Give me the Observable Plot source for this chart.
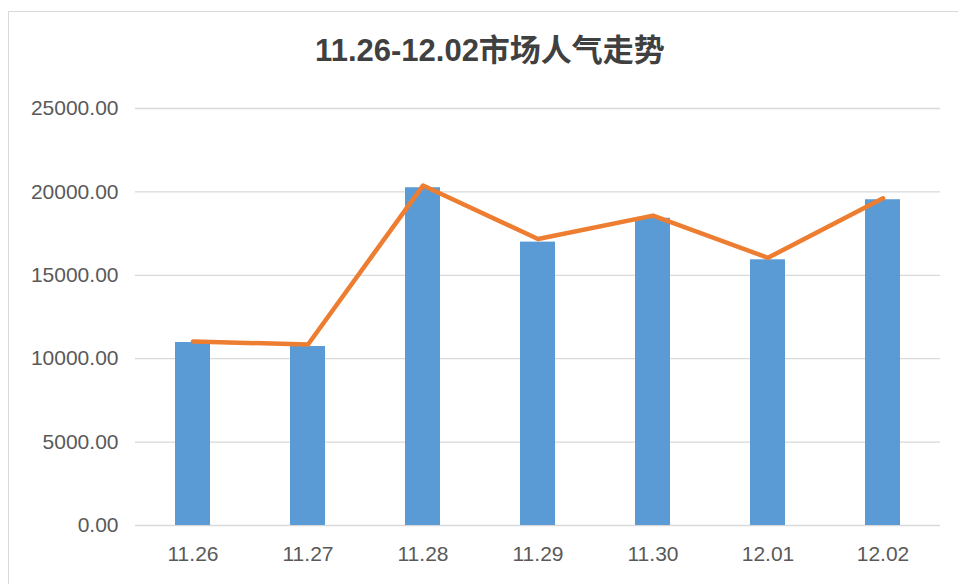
<!DOCTYPE html>
<html>
<head>
<meta charset="utf-8">
<script src="https://cdn.jsdelivr.net/npm/d3@7"></script>
<script src="https://cdn.jsdelivr.net/npm/@observablehq/plot@0.6"></script>
<style>
  html, body { margin: 0; padding: 0; background: #fff; }
  #wrap { position: relative; width: 958px; height: 584px; overflow: hidden; }
  #frame { position: absolute; left: 8px; top: 11px; width: 960px; height: 600px; border: 1px solid #d9d9d9; box-sizing: border-box; }
  #title { position: absolute; left: 0; top: 0; width: 980px; height: 80px; line-height: 102px; text-align: center;
           font-family: "Liberation Sans", "Noto Sans CJK SC", sans-serif; font-weight: bold; font-size: 31px; color: #404040; }
  #chart { position: absolute; left: 0; top: 80px; }
  #chart svg { font-family: "Liberation Sans", "Noto Sans CJK SC", sans-serif; }
</style>
</head>
<body>
<div id="wrap">
  <div id="frame"></div>
  <div id="title">11.26-12.02市场人气走势</div>
  <div id="chart"></div>
</div>
<script>
const dates = ["11.26", "11.27", "11.28", "11.29", "11.30", "12.01", "12.02"];
const barValues = [10970, 10730, 20250, 16990, 18420, 15930, 19530];
const lineValues = [11030, 10850, 20380, 17180, 18580, 16050, 19620];
const yTicks = [0, 5000, 10000, 15000, 20000, 25000];

const barData = dates.map((d, i) => ({date: d, value: barValues[i]}));
const lineData = dates.map((d, i) => ({date: d, value: lineValues[i]}));

const chart = Plot.plot({
  width: 958,
  height: 504,
  marginLeft: 135,
  marginRight: 18,
  marginTop: 28,
  marginBottom: 59,
  style: {fontSize: "21px", color: "#595959", background: "transparent"},
  x: {domain: dates, paddingInner: 0.7, paddingOuter: 0.35, label: null, tickSize: 0, tickPadding: 21},
  y: {domain: [0, 25000], ticks: yTicks, label: null, tickSize: 0, tickPadding: 17,
      tickFormat: d => d3.format(".2f")(d)},
  marks: [
    Plot.gridY(yTicks, {stroke: "#d9d9d9", strokeOpacity: 1, strokeWidth: 1.3}),
    Plot.barY(barData, {x: "date", y: "value", fill: "#5b9bd5"}),
    Plot.line(lineData, {x: "date", y: "value", stroke: "#ed7d31", strokeWidth: 4.5, strokeLinejoin: "round", strokeLinecap: "round"})
  ]
});
document.getElementById("chart").appendChild(chart);
</script>
</body>
</html>
